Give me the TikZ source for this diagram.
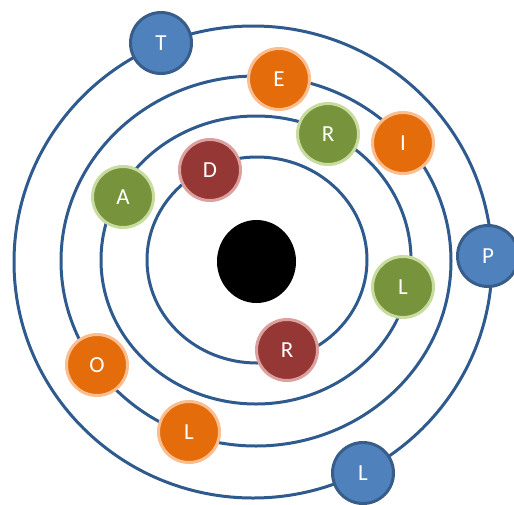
\documentclass[tikz,border=0pt]{standalone}
\usepackage{fontspec}
\setsansfont{Carlito}
\usepackage{tikz}

\definecolor{orbitblue}{RGB}{46,90,142}
\definecolor{ballblue}{RGB}{79,129,189}
\definecolor{rimblue}{RGB}{56,93,138}
\definecolor{ballorange}{RGB}{228,108,10}
\definecolor{rimorange}{RGB}{250,190,145}
\definecolor{ballgreen}{RGB}{119,147,60}
\definecolor{rimgreen}{RGB}{200,220,160}
\definecolor{ballred}{RGB}{149,55,53}
\definecolor{rimred}{RGB}{220,160,158}

\begin{document}
\begin{tikzpicture}[x=1pt,y=-1pt,
    orbit/.style={draw=orbitblue,line width=3pt},
    ball/.style={circle,minimum size=61pt,inner sep=0pt,line width=3pt,
        text=white,font=\sffamily\fontsize{23}{23}\selectfont},
    blueball/.style={ball,fill=ballblue,draw=rimblue},
    orangeball/.style={ball,fill=ballorange,draw=rimorange},
    greenball/.style={ball,fill=ballgreen,draw=rimgreen},
    redball/.style={ball,fill=ballred,draw=rimred}]
    \useasboundingbox (0,0) rectangle (514,504);

    % orbits
    \draw[orbit] (257,260) ellipse [x radius=110, y radius=103];
    \draw[orbit] (256,260) ellipse [x radius=155, y radius=144];
    \draw[orbit] (256,261) ellipse [x radius=195, y radius=185];
    \draw[orbit] (253,262) ellipse [x radius=239, y radius=236];

    % nucleus
    \fill[black] (256.5,261.5) ellipse [x radius=39.5, y radius=41.5];

    % inner orbit
    \node[redball] (d) at (210,170) {D};
    \node[redball] (r2) at (287,350) {R};

    % second orbit
    \node[greenball] (a) at (123,197) {A};
    \node[greenball] (r1) at (328,134) {R};
    \node[greenball] (l1) at (403,287) {L};

    % third orbit
    \node[orangeball] (e) at (279,79) {E};
    \node[orangeball] (i) at (403,143) {I};
    \node[orangeball] (o) at (97,365) {O};
    \node[orangeball] (l2) at (189,432) {L};

    % outer orbit
    \node[blueball] (t) at (161,43) {T};
    \node[blueball] (p) at (488,256) {P};
    \node[blueball] (l3) at (363,473) {L};
\end{tikzpicture}
\end{document}
